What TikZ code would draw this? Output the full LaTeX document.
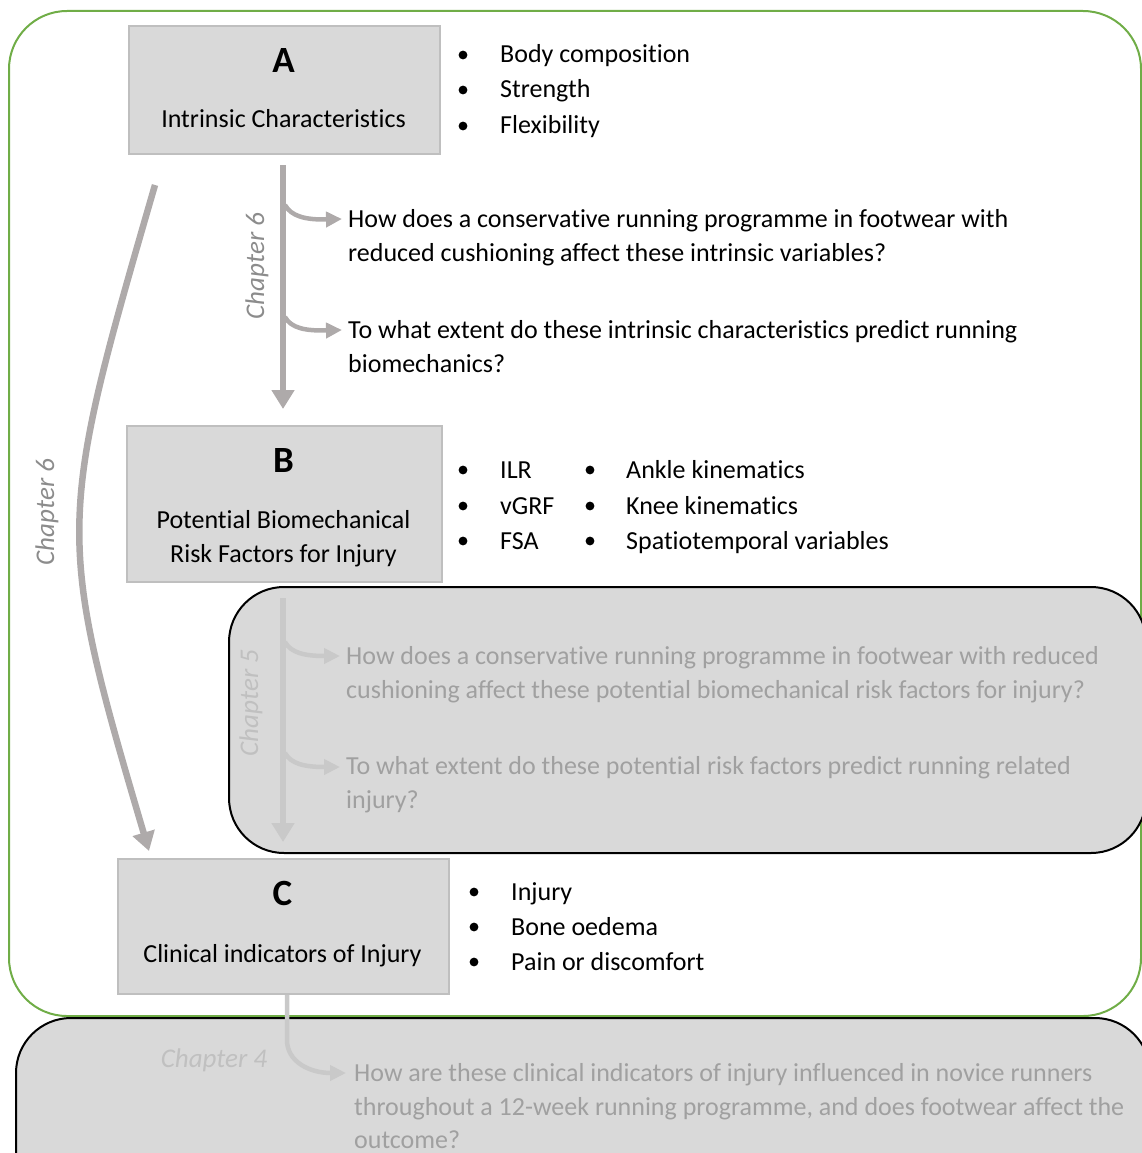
\documentclass[tikz,border=0pt]{standalone}
\usepackage{fontspec}
\setmainfont[Ligatures=NoCommon]{Carlito}
\usetikzlibrary{arrows.meta}
\definecolor{boxfill}{HTML}{D9D9D9}
\definecolor{boxline}{HTML}{BFBFBF}
\definecolor{frame}{HTML}{70AD47}
\definecolor{flow}{HTML}{AEAAAA}
\definecolor{flowlight}{HTML}{C9C9C9}
\definecolor{qgray}{HTML}{A0A0A0}
\definecolor{chapdark}{HTML}{8C8C8C}
\definecolor{chaplight}{HTML}{C0C0C0}
\begin{document}
\begin{tikzpicture}[x=1pt,y=-1pt,
  txt/.style={inner sep=0pt,anchor=base west,font=\fontsize{26}{34}\selectfont},
  ctxt/.style={inner sep=0pt,anchor=base,font=\fontsize{26}{34}\selectfont},
  letter/.style={inner sep=0pt,anchor=base,font=\fontsize{37}{40}\selectfont\bfseries},
  stagebox/.style={draw=boxline,line width=2pt,fill=boxfill,anchor=north west,inner sep=0pt},
  chaplabel/.style={inner sep=0pt,font=\fontsize{27}{30}\selectfont\itshape},
  mainflow/.style={draw=flow,line width=6.5pt,-{Triangle[width=22pt,length=19pt]}},
  hook/.style={line width=4.5pt,-{Triangle[width=15pt,length=16pt]}},
  dot/.style={fill=black},
]
\def\bulletr{4.4pt}
\useasboundingbox (0,0) rectangle (1142,1153);
\begin{scope}
\clip (0,0) rectangle (1142,1153);
% outer green frame
\draw[frame,line width=2pt,rounded corners=58pt] (9,11) rectangle (1141,1016);
% chapter 4 panel
\draw[black,line width=2pt,fill=boxfill,rounded corners=55pt] (16,1018) rectangle (1150,1210);
% chapter 5 panel
\draw[black,line width=2pt,fill=boxfill,rounded corners=55pt] (229,587) rectangle (1146,853);
\end{scope}

% stage A
\node[stagebox,minimum width=311pt,minimum height=128pt] (A) at (128,25) {};
\node[letter] (Aletter) at (283.5,73) {A};
\node[ctxt] (Aname) at (283.5,128) {Intrinsic Characteristics};
\fill[dot] (463,55) circle (\bulletr);
\fill[dot] (463,90) circle (\bulletr);
\fill[dot] (463,126) circle (\bulletr);
\node[txt] (a1) at (500,63) {Body composition};
\node[txt] (a2) at (500,98) {Strength};
\node[txt] (a3) at (500,134) {Flexibility};

% stage B
\node[stagebox,minimum width=315pt,minimum height=156pt] (B) at (126,425) {};
\node[letter] (Bletter) at (283.5,472) {B};
\node[ctxt] (Bname1) at (283.5,528) {Potential Biomechanical};
\node[ctxt] (Bname2) at (283.5,562) {Risk Factors for Injury};
\fill[dot] (463,470) circle (\bulletr);
\fill[dot] (463,506) circle (\bulletr);
\fill[dot] (463,541) circle (\bulletr);
\node[txt] (b1) at (500,478) {ILR};
\node[txt] (b2) at (500,514) {vGRF};
\node[txt] (b3) at (500,549) {FSA};
\fill[dot] (590,470) circle (\bulletr);
\fill[dot] (590,506) circle (\bulletr);
\fill[dot] (590,541) circle (\bulletr);
\node[txt] (b4) at (626,478) {Ankle kinematics};
\node[txt] (b5) at (626,514) {Knee kinematics};
\node[txt] (b6) at (626,549) {Spatiotemporal variables};

% stage C
\node[stagebox,minimum width=331pt,minimum height=135pt] (C) at (117,858) {};
\node[letter] (Cletter) at (282.5,905) {C};
\node[ctxt] (Cname) at (282.5,962) {Clinical indicators of Injury};
\fill[dot] (474,892) circle (\bulletr);
\fill[dot] (474,927) circle (\bulletr);
\fill[dot] (474,962) circle (\bulletr);
\node[txt] (c1) at (511,900) {Injury};
\node[txt] (c2) at (511,935) {Bone oedema};
\node[txt] (c3) at (511,970) {Pain or discomfort};

% chapter 6: A to B
\coordinate (abTop) at (283,165);
\coordinate (abEnd) at (283,409);
\draw[mainflow] (abTop) -- (abEnd);
\node[chaplabel,text=chapdark,rotate=90] (ch6a) at (257,266) {Chapter 6};
\node[txt] (q1a) at (348,227) {How does a conservative running programme in footwear with};
\node[txt] (q1b) at (348,261) {reduced cushioning affect these intrinsic variables?};
\node[txt] (q2a) at (348,338) {To what extent do these intrinsic characteristics predict running};
\node[txt] (q2b) at (348,372) {biomechanics?};
\draw[hook,draw=flow] (285,205) .. controls (291,216) and (305,220) .. ([xshift=-6pt]q1a.west |- 0,219);
\draw[hook,draw=flow] (285,317) .. controls (291,328) and (305,331) .. ([xshift=-6pt]q2a.west |- 0,330);

% chapter 6: A to C
\coordinate (acTop) at (155,185);
\draw[mainflow] (acTop) .. controls (57,523) and (55,533) .. (149,851);
\node[chaplabel,text=chapdark,rotate=90] (ch6b) at (47,512) {Chapter 6};

% chapter 5: B to C
\draw[draw=flowlight,line width=6.5pt,-{Triangle[width=22pt,length=19pt]}] (283,598) -- (283,842);
\node[chaplabel,text=chaplight,rotate=90] (ch5) at (251,703) {Chapter 5};
\node[txt,text=qgray] (q3a) at (346,664) {How does a conservative running programme in footwear with reduced};
\node[txt,text=qgray] (q3b) at (346,698) {cushioning affect these potential biomechanical risk factors for injury?};
\node[txt,text=qgray] (q4a) at (346,774) {To what extent do these potential risk factors predict running related};
\node[txt,text=qgray] (q4b) at (346,808) {injury?};
\draw[hook,draw=flowlight] (285,642) .. controls (291,653) and (305,656) .. ([xshift=-6pt]q3a.west |- 0,656);
\draw[hook,draw=flowlight] (285,753) .. controls (291,764) and (305,767) .. ([xshift=-6pt]q4a.west |- 0,767);

% chapter 4: C onwards
\node[chaplabel,text=chaplight,anchor=base] (ch4) at (214,1067) {Chapter 4};
\node[txt,text=qgray] (q5a) at (354,1081) {How are these clinical indicators of injury influenced in novice runners};
\node[txt,text=qgray] (q5b) at (354,1115) {throughout a 12-week running programme, and does footwear affect the};
\node[txt,text=qgray] (q5c) at (354,1148) {outcome?};
\draw[hook,draw=flowlight] (C.south -| 287,0) -- (287,1040) .. controls (287,1062) and (310,1073) .. ([xshift=-8pt]q5a.west |- 0,1073);
\end{tikzpicture}
\end{document}
